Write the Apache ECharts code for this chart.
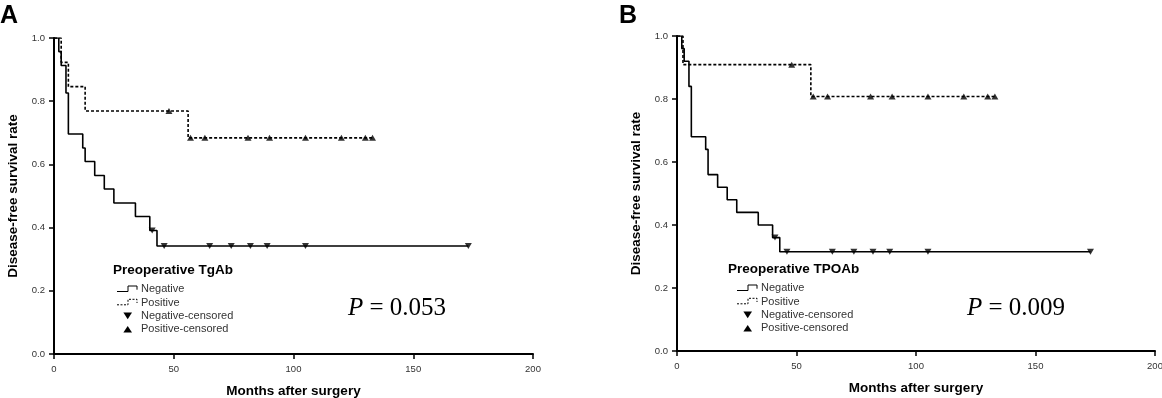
<!DOCTYPE html>
<html>
<head>
<meta charset="utf-8">
<script src="https://cdn.jsdelivr.net/npm/echarts@6/dist/echarts.min.js"></script>
<style>html,body{margin:0;padding:0;background:#fff}</style>
</head>
<body>
<div id="kmChart" style="width:1162px;height:398px"></div>
<script>
// 坐标轴刻度
var xTicks = [0, 50, 100, 150, 200];
var yTicks = [0, 0.2, 0.4, 0.6, 0.8, 1.0];

// A: Preoperative TgAb
var negA_t = [0, 2, 3, 5, 6, 12, 13, 17, 21, 25, 34, 40, 43, 173];
var negA_s = [1, 0.957, 0.913, 0.826, 0.696, 0.652, 0.609, 0.565, 0.522, 0.478, 0.435, 0.391, 0.342, 0.342];
var negA_cens = [41, 46, 65, 74, 82, 89, 105, 173];
var posA_t = [0, 3, 6, 13, 56, 133];
var posA_s = [1, 0.923, 0.846, 0.769, 0.684, 0.684];
var posA_cens = [48, 57, 63, 81, 90, 105, 120, 130, 133];

// B: Preoperative TPOAb
var negB_t = [0, 2, 3, 5, 6, 12, 13, 17, 21, 25, 34, 40, 43, 173];
var negB_s = [1, 0.96, 0.92, 0.84, 0.68, 0.64, 0.56, 0.52, 0.48, 0.44, 0.40, 0.36, 0.315, 0.315];
var negB_cens = [41, 46, 65, 74, 82, 89, 105, 173];
var posB_t = [0, 2.5, 56, 133];
var posB_s = [1, 0.909, 0.808, 0.808];
var posB_cens = [48, 57, 63, 81, 90, 105, 120, 130, 133];

var FONT = '"Liberation Sans", Arial, sans-serif';
var SERIF = '"Liberation Serif", "Times New Roman", serif';

// 生存曲线在 t 时刻的值（删失点落在曲线上）
function survAt(ts, ss, t) {
  var v = ss[0];
  for (var i = 0; i < ts.length; i++) { if (ts[i] <= t) v = ss[i]; }
  return v;
}
function pairs(ts, ss) { return ts.map(function (t, i) { return [t, ss[i]]; }); }
function censPts(cens, ts, ss) { return cens.map(function (t) { return [t, survAt(ts, ss, t)]; }); }

function xAxisOf(idx) {
  return {
    type: 'value', gridIndex: idx,
    min: xTicks[0], max: xTicks[xTicks.length - 1], interval: xTicks[1] - xTicks[0],
    name: 'Months after surgery', nameLocation: 'middle', nameGap: 30,
    nameTextStyle: { color: '#000', fontSize: 13.5, fontWeight: 'bold', fontFamily: FONT },
    axisLine: { lineStyle: { color: '#000', width: 2 } },
    axisTick: { length: 5, lineStyle: { color: '#000', width: 1.5 } },
    axisLabel: { color: '#333', fontSize: 9.5, margin: 10, fontFamily: FONT },
    splitLine: { show: false }
  };
}
function yAxisOf(idx) {
  return {
    type: 'value', gridIndex: idx,
    min: yTicks[0], max: yTicks[yTicks.length - 1], interval: 0.2,
    name: 'Disease-free survival rate', nameLocation: 'middle', nameGap: 34,
    nameTextStyle: { color: '#000', fontSize: 13.5, fontWeight: 'bold', fontFamily: FONT },
    axisLine: { show: true, lineStyle: { color: '#000', width: 2 } },
    axisTick: { show: true, length: 5, lineStyle: { color: '#000', width: 1.5 } },
    axisLabel: { color: '#333', fontSize: 9.5, margin: 9, fontFamily: FONT, formatter: function (v) { return v.toFixed(1); } },
    splitLine: { show: false }
  };
}
function curve(name, idx, data, dashed) {
  return {
    name: name, type: 'line', step: 'end', xAxisIndex: idx, yAxisIndex: idx,
    data: data, symbol: 'none',
    lineStyle: { color: '#000', width: 1.6, type: dashed ? [3, 2] : 'solid' }
  };
}
function censored(name, idx, data, down) {
  return {
    name: name, type: 'scatter', xAxisIndex: idx, yAxisIndex: idx,
    data: data, symbol: 'triangle', symbolSize: [7, 6], symbolRotate: down ? 180 : 0,
    itemStyle: { color: '#000' }
  };
}

// 图例（手绘阶梯线和三角形）
function legendBlock(title, tx, ty, ix, rowY0) {
  var els = [];
  var pitch = 13.3;
  els.push({ type: 'text', x: tx, y: ty, style: { text: title, fontSize: 13.5, fontWeight: 'bold', fontFamily: FONT, fill: '#000', textVerticalAlign: 'middle', verticalAlign: 'middle' } });
  var labels = ['Negative', 'Positive', 'Negative-censored', 'Positive-censored'];
  labels.forEach(function (lab, i) {
    var y = rowY0 + i * pitch;
    if (i < 2) {
      els.push({ type: 'polyline', x: ix, y: y,
        shape: { points: [[0, 2.2], [11, 2.2], [11, -3.3], [20, -3.3], [20, 0.4]] },
        style: { stroke: '#000', lineWidth: 1, fill: null, lineDash: i === 1 ? [2, 1.5] : null } });
    } else {
      var pts = i === 2 ? [[-4.3, -3.3], [4.3, -3.3], [0, 3.3]] : [[-4.3, 3.3], [4.3, 3.3], [0, -3.3]];
      els.push({ type: 'polygon', x: ix + 10.7, y: y, shape: { points: pts }, style: { fill: '#000' } });
    }
    els.push({ type: 'text', x: ix + 24, y: y, style: { text: lab, fontSize: 11, fontFamily: FONT, fill: '#333', textVerticalAlign: 'middle', verticalAlign: 'middle' } });
  });
  return els;
}
function pText(val, x, y) {
  return { type: 'text', x: x, y: y, style: {
    text: '{i|P} = ' + val, fontSize: 25, fontFamily: SERIF, fill: '#000',
    textVerticalAlign: 'middle', verticalAlign: 'middle',
    rich: { i: { fontStyle: 'italic', fontSize: 25, fontFamily: SERIF, fill: '#000' } }
  } };
}
function panelLetter(letter, x) {
  return { type: 'text', x: x, y: 16, style: { text: letter, fontSize: 25, fontWeight: 'bold', fontFamily: FONT, fill: '#000', textVerticalAlign: 'middle', verticalAlign: 'middle' } };
}

var kmOption = {
  animation: false,
  backgroundColor: '#fff',
  grid: [
    { left: 54, top: 38, width: 479, height: 316, outerBoundsMode: 'none' },
    { left: 677, top: 36, width: 478, height: 315, outerBoundsMode: 'none' }
  ],
  xAxis: [xAxisOf(0), xAxisOf(1)],
  yAxis: [yAxisOf(0), yAxisOf(1)],
  series: [
    curve('Negative', 0, pairs(negA_t, negA_s), false),
    curve('Positive', 0, pairs(posA_t, posA_s), true),
    censored('Negative-censored', 0, censPts(negA_cens, negA_t, negA_s), true),
    censored('Positive-censored', 0, censPts(posA_cens, posA_t, posA_s), false),
    curve('Negative', 1, pairs(negB_t, negB_s), false),
    curve('Positive', 1, pairs(posB_t, posB_s), true),
    censored('Negative-censored', 1, censPts(negB_cens, negB_t, negB_s), true),
    censored('Positive-censored', 1, censPts(posB_cens, posB_t, posB_s), false)
  ],
  graphic: [].concat(
    [panelLetter('A', 0), panelLetter('B', 619)],
    legendBlock('Preoperative TgAb', 113, 270, 117, 289.3),
    legendBlock('Preoperative TPOAb', 728, 269, 737, 288.3),
    [pText('0.053', 348, 308), pText('0.009', 967, 308)]
  )
};

var kmChart = echarts.init(document.getElementById('kmChart'));
kmChart.setOption(kmOption);
</script>
</body>
</html>
